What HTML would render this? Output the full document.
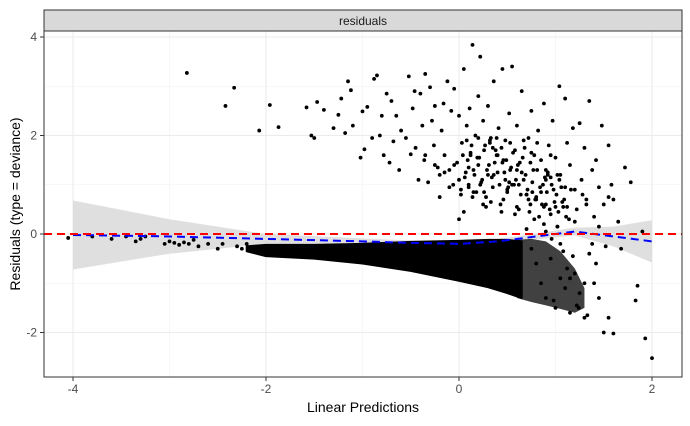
<!DOCTYPE html>
<html><head><meta charset="utf-8"><style>
body{margin:0;background:#fff;font-family:"Liberation Sans",sans-serif}
svg text{font-family:"Liberation Sans",sans-serif}
</style></head><body>
<svg id="c" width="690" height="421" xmlns="http://www.w3.org/2000/svg">
<rect x="44" y="10" width="638" height="21" fill="#d9d9d9" stroke="#333" stroke-width="1"/>
<text x="363" y="25" font-size="12" text-anchor="middle" fill="#1a1a1a">residuals</text>
<g id="grid"></g><g id="ci"></g><g id="band"></g><g id="pts"></g><g id="lines"></g>
<rect x="44" y="31" width="638" height="346" fill="none" stroke="#333" stroke-width="1"/>
<g id="axes"></g>
<text x="363" y="412" font-size="14" text-anchor="middle" fill="#000">Linear Predictions</text>
<text transform="translate(20,204) rotate(-90)" font-size="14" text-anchor="middle" fill="#000">Residuals (type = deviance)</text>
</svg>
<script>
const xTicks=[-4,-2,0,2];
const yTicks=[-2,0,2,4];
const xMinor=[-3,-1,1];
const yMinor=[-1,1,3];
const upX=[-2.82,-2.42,-2.33,-2.07,-1.96,-1.87,-1.58,-1.53,-1.5,-1.47,-1.4,-1.3,-1.25,-1.22,-1.18,-1.15,-1.12,-1.1,-1.02,-1.0,-0.98,-0.95,-0.9,-0.88,-0.85,-0.82,-0.8,-0.78,-0.75,-0.72,-0.7,-0.68,-0.65,-0.62,-0.6,-0.55,-0.52,-0.5,-0.48,-0.46,-0.45,-0.42,-0.4,-0.38,-0.36,-0.35,-0.32,-0.3,-0.28,-0.26,-0.25,-0.22,-0.2,-0.18,-0.16,-0.15,-0.12,-0.1,-0.08,-0.06,-0.05,-0.02,0,0.02,0.03,0.05,0.06,0.08,0.1,0.11,0.12,0.14,0.15,0.17,0.18,0.2,0.21,0.22,0.24,0.25,0.27,0.28,0.3,0.31,0.33,0.35,0.36,0.38,0.4,0.41,0.43,0.45,0.46,0.48,0.5,0.52,0.53,0.55,0.57,0.58,0.6,0.62,0.63,0.65,0.67,0.68,0.7,0.72,0.73,0.75,0.77,0.78,0.8,0.82,0.83,0.85,0.87,0.88,0.9,0.92,0.93,0.95,0.97,0.98,1.0,1.02,1.04,1.05,1.07,1.1,1.12,1.14,1.15,1.18,1.2,1.22,1.25,1.27,1.3,1.32,1.35,1.38,1.4,1.42,1.45,1.48,1.5,1.55,1.58,1.6,1.65,1.72,1.78,1.9,0.05,0.1,0.2,0.3,0.4,0.5,0.6,0.7,0.8,0.9,1.0,1.1,0.15,0.25,0.35,0.45,0.55,0.65,0.75,0.85,0.95,-0.1,-0.2,0.0,0.12,0.32,0.52,0.72,0.92,1.12,1.28];
const upY=[3.27,2.6,2.97,2.1,2.62,2.17,2.57,2.0,1.95,2.68,2.52,2.15,2.42,2.75,2.05,3.1,2.92,2.2,1.55,2.49,1.72,2.58,1.95,3.15,3.22,2.0,2.4,1.6,2.85,1.45,2.7,1.88,2.4,1.3,2.1,1.95,3.2,1.62,2.55,2.9,1.75,1.1,2.85,2.2,1.5,3.25,1.05,2.98,2.3,1.8,2.6,1.35,1.2,2.1,2.65,1.6,3.1,1.3,2.5,1.0,2.95,1.45,2.4,0.8,1.85,3.35,1.15,2.2,0.95,2.55,1.65,3.84,1.3,2.0,0.85,2.8,1.55,3.6,1.1,2.3,1.8,0.75,2.6,1.4,1.95,0.95,3.1,1.7,1.25,2.15,0.6,3.35,1.5,1.9,0.85,2.45,1.3,3.4,1.0,1.7,2.2,0.5,1.45,2.9,1.1,1.75,0.8,1.95,0.45,2.5,1.3,1.6,0.7,2.1,0.35,1.5,1.0,2.65,0.6,1.25,1.8,0.4,2.3,0.9,1.55,0.15,3.0,1.2,0.65,2.75,1.85,0.3,1.4,2.15,0.9,0.5,2.25,1.1,1.75,0.7,2.7,1.3,0.35,1.5,0.95,2.2,0.6,1.8,1.0,0.7,0.25,1.35,1.05,0.05,0.45,1.0,1.4,1.2,1.6,0.9,1.3,0.8,0.75,1.1,0.55,0.95,0.85,0.6,1.75,1.45,1.0,1.25,1.65,0.85,1.15,0.95,0.75,0.3,1.6,1.9,1.05,0.7,1.2,0.55,0.8,0.45,0.4,1.0];
const coreX=[-0.05,0.0,0.04,0.07,0.09,0.13,0.16,0.19,0.23,0.26,0.29,0.32,0.34,0.37,0.39,0.42,0.44,0.47,0.49,0.51,0.54,0.56,0.59,0.61,0.64,0.66,0.69,0.71,0.74,0.76,0.79,0.81,0.84,0.86,0.89,0.91,0.94,0.96,0.99,1.01,1.03,1.06,1.08,1.11,-0.15,-0.25,-0.35,0.02,0.08,0.14,0.2,0.26,0.33,0.39,0.46,0.53,0.6,0.67,0.74,0.81,0.88,0.95,1.02,1.09,1.16,0.1,0.22,0.36,0.48,0.62,0.76,0.9,1.04,1.2,1.32,1.45,1.55,0.28,0.44,0.58];
const coreY=[1.4,1.1,1.6,1.25,1.5,1.8,1.2,1.55,1.05,1.7,1.3,1.85,1.15,1.45,1.6,1.0,1.75,1.25,1.5,0.95,1.35,1.65,1.1,1.4,0.8,1.55,1.2,0.9,1.45,1.05,0.7,1.3,0.95,0.6,1.15,0.85,0.5,1.0,0.65,0.8,0.45,0.95,0.55,0.35,1.25,1.4,1.6,0.9,1.9,0.75,1.95,0.85,0.65,1.95,0.7,1.85,0.55,1.9,0.6,1.85,0.55,1.6,1.2,0.7,0.9,1.35,1.0,1.2,1.1,1.0,0.85,1.3,1.1,0.25,0.6,0.15,0.75,0.55,0.45,0.4];
const loX=[-4.05,-3.8,-3.6,-3.45,-3.35,-3.3,-3.25,-3.05,-3.0,-2.95,-2.9,-2.85,-2.8,-2.75,-2.7,-2.6,-2.5,-2.45,-2.3,-2.25,-2.2,0.75,0.8,0.85,0.9,0.95,1.0,1.05,1.1,1.15,1.2,1.25,1.3,1.35,1.4,1.45,1.5,1.55,1.6,1.68,1.83,1.85,1.93,2.0,1.52,1.05,0.9,1.18,1.3,0.98,1.12,1.22,1.38,1.42,0.7,0.78,0.88,0.96,1.08,1.15,1.24,1.33,1.02];
const loY=[-0.08,-0.05,-0.1,-0.05,-0.15,-0.1,-0.05,-0.2,-0.15,-0.18,-0.22,-0.17,-0.2,-0.12,-0.25,-0.2,-0.3,-0.2,-0.25,-0.3,-0.2,-0.3,-0.6,-1.0,-1.3,-0.5,-1.5,-0.2,-1.1,-1.6,-0.8,-1.2,-1.7,-0.4,-1.0,-1.3,-2.0,-1.7,-2.02,-0.3,-1.35,-1.05,-2.12,-2.52,-0.25,-0.9,0.05,-0.45,-1.0,-1.35,-0.7,-1.45,-0.2,-0.6,0.1,0.3,0.2,-0.1,-0.35,-0.9,-1.5,-1.65,0.15];
const bandX=[-2.2,-2.0,-1.5,-1.0,-0.5,0.0,0.3,0.5,0.65];
const bandTop=[-0.25,-0.22,-0.22,-0.2,-0.16,-0.14,-0.12,-0.12,-0.15];
const bandBot=[-0.35,-0.45,-0.5,-0.6,-0.75,-0.95,-1.08,-1.2,-1.3];
const sparseX=[0.6,0.75,0.9,1.05,1.2,1.3];
const sparseTop=[-0.12,-0.1,-0.15,-0.35,-0.7,-1.1];
const sparseBot=[-1.3,-1.38,-1.45,-1.52,-1.6,-1.5];
const smX=[-4,-3,-2,-1,-0.5,0,0.4,0.8,1.2,1.6,2];
const smY=[-0.02,-0.05,-0.1,-0.15,-0.18,-0.2,-0.15,-0.05,0.05,-0.05,-0.15];
const ciW=[0.7,0.35,0.1,0.06,0.05,0.05,0.05,0.06,0.08,0.2,0.43];
const NS='http://www.w3.org/2000/svg';
const sx=v=>459+v*96.5, sy=v=>234-v*49.25;
function mk(p,t,a){const e=document.createElementNS(NS,t);for(const k in a)e.setAttribute(k,a[k]);document.getElementById(p).appendChild(e);return e;}
xMinor.forEach(v=>{const e=mk('grid','line',{x1:sx(v),x2:sx(v),y1:31,y2:377,stroke:'#f2f2f2','stroke-width':0.6});

});
yMinor.forEach(v=>{const e=mk('grid','line',{x1:44,x2:682,y1:sy(v),y2:sy(v),stroke:'#f2f2f2','stroke-width':0.6});

});
xTicks.forEach(v=>{const g=mk('grid','line',{x1:sx(v),x2:sx(v),y1:31,y2:377,stroke:'#ebebeb','stroke-width':1.1});


mk('axes','line',{x1:sx(v),x2:sx(v),y1:377,y2:381,stroke:'#333'});
const t=mk('axes','text',{x:sx(v),y:393,'font-size':12,'text-anchor':'middle',fill:'#4d4d4d'});t.textContent=v;

});
yTicks.forEach(v=>{const g=mk('grid','line',{x1:44,x2:682,y1:sy(v),y2:sy(v),stroke:'#ebebeb','stroke-width':1.1});


mk('axes','line',{x1:40,x2:44,y1:sy(v),y2:sy(v),stroke:'#333'});
const t=mk('axes','text',{x:37,y:sy(v)+4,'font-size':12,'text-anchor':'end',fill:'#4d4d4d'});t.textContent=v;

});
let up=smX.map((x,i)=>sx(x)+','+sy(smY[i]+ciW[i])), dn=smX.map((x,i)=>sx(x)+','+sy(smY[i]-ciW[i])).reverse();
const ci=mk('ci','polygon',{points:up.concat(dn).join(' '),fill:'#d9d9d9','fill-opacity':0.85});


let st=sparseX.map((x,i)=>sx(x)+','+sy(sparseTop[i])), sb=sparseX.map((x,i)=>sx(x)+','+sy(sparseBot[i])).reverse();
const sp=mk('band','polygon',{points:st.concat(sb).join(' '),fill:'#111','fill-opacity':0.8,stroke:'none'});


let bt=bandX.map((x,i)=>sx(x)+','+sy(bandTop[i])), bb=bandX.map((x,i)=>sx(x)+','+sy(bandBot[i])).reverse();
const bd=mk('band','polygon',{points:bt.concat(bb).join(' '),fill:'#000',stroke:'#000','stroke-width':2,'stroke-linejoin':'round'});


upX.forEach((x,i)=>{const c=mk('pts','circle',{cx:sx(x),cy:sy(upY[i]),r:1.9,fill:'#000'});

});
coreX.forEach((x,i)=>{const c=mk('pts','circle',{cx:sx(x),cy:sy(coreY[i]),r:1.9,fill:'#000'});

});
loX.forEach((x,i)=>{const c=mk('pts','circle',{cx:sx(x),cy:sy(loY[i]),r:1.9,fill:'#000'});

});
const sm=mk('lines','polyline',{points:smX.map((x,i)=>sx(x)+','+sy(smY[i])).join(' '),fill:'none',stroke:'#0000ff','stroke-width':2,'stroke-dasharray':'8,5'});


const z=mk('lines','line',{x1:44,x2:682,y1:sy(0),y2:sy(0),stroke:'#ff0000','stroke-width':2,'stroke-dasharray':'8,5'});


</script>
</body></html>
